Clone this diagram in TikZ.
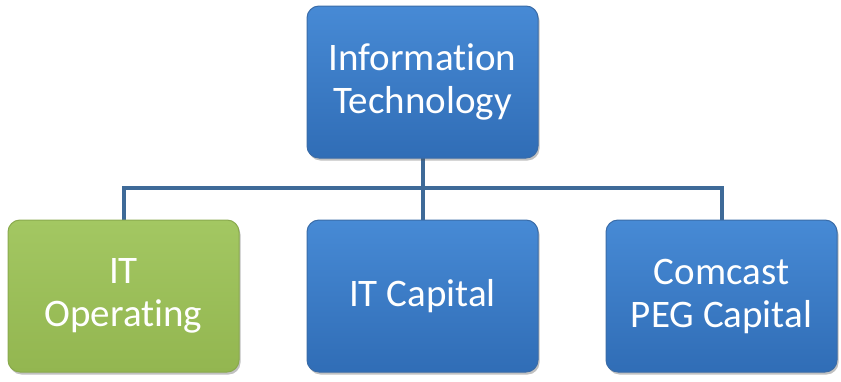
\documentclass[tikz,border=0pt]{standalone}
\usepackage{fontspec}
\setmainfont{Carlito}[Ligatures=NoCommon]
\usetikzlibrary{shadows}
\definecolor{boxbluetop}{HTML}{478AD5}
\definecolor{boxbluebot}{HTML}{306DB6}
\definecolor{boxborder}{HTML}{3A6CA8}
\definecolor{greentop}{HTML}{A3C762}
\definecolor{greenbot}{HTML}{93B650}
\definecolor{greenborder}{HTML}{8AAA4E}
\definecolor{linecol}{HTML}{3E6A98}
\tikzset{
  orgbox/.style={rectangle, rounded corners=12pt, minimum width=231pt, minimum height=152pt,
    draw=boxborder, line width=1pt, top color=boxbluetop, bottom color=boxbluebot,
    text=white, align=center, font=\fontsize{39}{43}\selectfont, inner sep=0pt,
    drop shadow={shadow xshift=1.5pt, shadow yshift=-2.5pt, opacity=0.35, fill=black!70}},
  greenbox/.style={orgbox, draw=greenborder, top color=greentop, bottom color=greenbot},
  link/.style={draw=linecol, line width=4pt}
}
\begin{document}
\begin{tikzpicture}[x=1pt,y=1pt]
\useasboundingbox (0,0) rectangle (841,-381);
\coordinate (bar) at (422.5,-188);
\coordinate (lefttop) at (123.5,-220);
\coordinate (righttop) at (721.5,-220);
\coordinate (topbot) at (422.5,-158);
\coordinate (midtop) at (422.5,-220);
\draw[link] (lefttop) |- (bar) -| (righttop);
\draw[link] (topbot) -- (midtop);
\node[orgbox] (top) at (422.5,-82) {Information\\Technology};
\node[greenbox] (left) at (123.5,-296) {IT\\Operating};
\node[orgbox] (mid) at (422.5,-296) {IT Capital};
\node[orgbox] (right) at (721.5,-296) {Comcast\\PEG Capital};
\end{tikzpicture}
\end{document}
